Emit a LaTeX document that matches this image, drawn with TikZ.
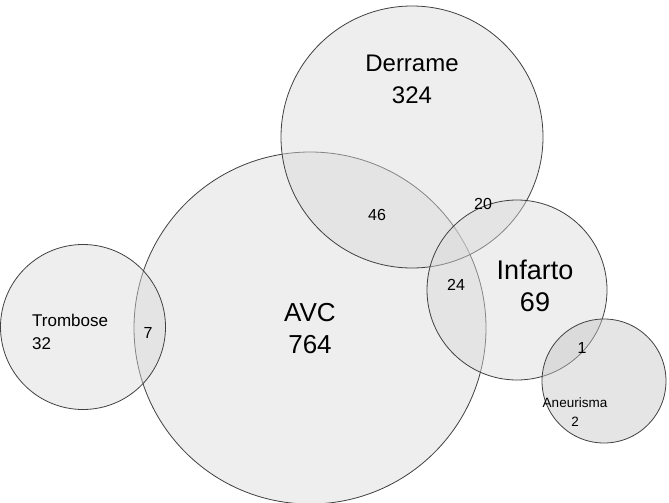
\documentclass[tikz,border=0pt]{standalone}
\usepackage{fontspec}
\setmainfont{Liberation Sans}
\usetikzlibrary{positioning}
\begin{document}
\begin{tikzpicture}[x=1pt,y=-1pt]
  %% diagramme de Venn
  \tikzstyle{every node}=[inner sep=0pt,align=center]
  \tikzstyle{ens}=[circle,draw=black!75,line width=0.8pt,fill=gray!30,fill opacity=0.45,text opacity=1]
  \useasboundingbox (0,0) rectangle (669,503);
  \clip (0,0) rectangle (669,503);
  % ensembles
  \node[ens,minimum size=352] (avc) at (310,328) {};
  \node[ens,minimum size=262] (derrame) at (412,137) {};
  \node[ens,minimum size=180] (infarto) at (517,290) {};
  \node[ens,minimum size=165] (trombose) at (83,327) {};
  \node[ens,minimum size=124,fill=gray!45] (aneurisma) at (604,381) {};
  % etiquettes
  \node[font=\fontsize{26}{32}\selectfont] (lavc) at (310,329) {AVC\\764};
  \node[font=\fontsize{24}{32}\selectfont] (lderrame) at (412,79) {Derrame\\324};
  \node[font=\fontsize{27}{32}\selectfont] (linfarto) at (535,286) {Infarto\\69};
  \node[font=\fontsize{17}{23}\selectfont,align=left,anchor=west] (ltrombose) at (32,332) {Trombose\\32};
  \node[font=\fontsize{13.5}{19}\selectfont] (laneurisma) at (575,412) {Aneurisma\\2};
  % intersections
  \tikzstyle{every node}=[font=\fontsize{16}{18}\selectfont]
  \node (i7) at (148,333) {7};
  \node (i46) at (377,215) {46};
  \node (i20) at (483,204) {20};
  \node (i24) at (456,285) {24};
  \node (i1) at (582,348) {1};
\end{tikzpicture}
\end{document}
